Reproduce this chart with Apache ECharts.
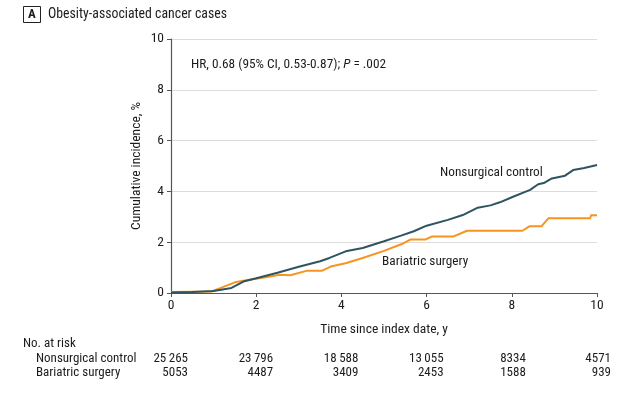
<!DOCTYPE html>
<html><head><meta charset="utf-8">
<script src="https://cdn.jsdelivr.net/npm/echarts@6/dist/echarts.min.js"></script>
<style>html,body{margin:0;padding:0;background:#fff}#c{width:634px;height:398px}</style>
</head><body><div id="c"></div>
<script>
const FONT = '"Roboto Condensed", "DejaVu Sans Condensed", sans-serif';
const xTicks = [0, 2, 4, 6, 8, 10];
const yTicks = [0, 2, 4, 6, 8, 10];
const controlCurve = [[0,0.02],[0.5,0.04],[1.0,0.08],[1.42,0.2],[1.7,0.45],[2.0,0.58],[2.5,0.8],[3.0,1.03],[3.5,1.25],[3.72,1.38],[4.1,1.64],[4.5,1.77],[5.0,2.04],[5.4,2.26],[5.7,2.43],[6.0,2.65],[6.5,2.88],[6.85,3.07],[7.2,3.36],[7.5,3.45],[7.72,3.57],[8.03,3.79],[8.43,4.06],[8.62,4.28],[8.75,4.33],[8.94,4.51],[9.25,4.62],[9.44,4.84],[9.7,4.92],[10,5.04]];
const surgeryCurve = [[0,0.04],[0.95,0.06],[1.2,0.22],[1.5,0.42],[1.7,0.48],[2.0,0.56],[2.3,0.64],[2.55,0.72],[2.8,0.7],[3.2,0.88],[3.55,0.88],[3.75,1.04],[4.1,1.17],[4.5,1.38],[5.0,1.66],[5.45,1.95],[5.63,2.11],[5.98,2.11],[6.12,2.22],[6.62,2.22],[6.95,2.45],[8.25,2.45],[8.42,2.63],[8.7,2.63],[8.86,2.94],[9.84,2.94],[9.86,3.06],[10,3.06]];
const riskTimes = [0, 2, 4, 6, 8, 10];
const riskControl = ['25\u2009265', '23\u2009796', '18\u2009588', '13\u2009055', '8334', '4571'];
const riskSurgery = ['5053', '4487', '3409', '2453', '1588', '939'];
const seriesNames = ['Nonsurgical control', 'Bariatric surgery'];

const chart = echarts.init(document.getElementById('c'), null, {renderer: 'canvas'});
const axisColor = '#555';
const TXT = '#1e1b1c';
chart.setOption({
  animation: false,
  textStyle: {fontFamily: FONT},
  grid: {left: 171, right: 37, top: 39, bottom: 105, containLabel: false},
  xAxis: {
    type: 'value', min: 0, max: 10, interval: 2,
    name: 'Time since index date, y', nameLocation: 'middle', nameGap: 30, nameMoveOverlap: false,
    nameTextStyle: {fontFamily: FONT, fontSize: 13.5, color: TXT},
    axisLine: {lineStyle: {color: axisColor, width: 1.2}},
    axisTick: {show: true, length: 4, lineStyle: {color: axisColor}},
    axisLabel: {fontFamily: FONT, fontSize: 13.5, color: TXT, margin: 6},
    splitLine: {show: false}
  },
  yAxis: {
    type: 'value', min: 0, max: 10, interval: 2,
    name: 'Cumulative incidence, %', nameLocation: 'middle', nameGap: 27, nameMoveOverlap: false,
    nameTextStyle: {fontFamily: FONT, fontSize: 13.5, color: TXT},
    axisLine: {show: true, lineStyle: {color: axisColor, width: 1.2}},
    axisTick: {show: true, length: 4, lineStyle: {color: axisColor}},
    axisLabel: {fontFamily: FONT, fontSize: 13.5, color: TXT, margin: 7},
    splitLine: {show: true, lineStyle: {color: '#dcdcdc', width: 1}}
  },
  series: [
    {name: seriesNames[0], type: 'line', data: controlCurve, showSymbol: false, lineStyle: {color: '#2e5461', width: 2}, z: 3},
    {name: seriesNames[1], type: 'line', data: surgeryCurve, showSymbol: false, lineStyle: {color: '#f7941e', width: 2}, z: 2}
  ]
});

const px = t => chart.convertToPixel({xAxisIndex: 0}, t);
const py = v => chart.convertToPixel({yAxisIndex: 0}, v);
const g = [];
// panel label
g.push({type: 'rect', shape: {x: 23.5, y: 6.5, width: 17, height: 16}, style: {fill: '#fff', stroke: '#222', lineWidth: 1}});
g.push({type: 'text', x: 32, y: 14.5, style: {text: 'A', fontFamily: FONT, fontSize: 13, fontWeight: 'bold', fill: TXT, align: 'center', verticalAlign: 'middle'}});
g.push({type: 'text', x: 48, y: 14.5, style: {text: 'Obesity-associated cancer cases', fontFamily: FONT, fontSize: 13.8, fill: TXT, align: 'left', verticalAlign: 'middle'}});
// HR annotation
g.push({type: 'text', x: 191, y: 65, style: {
  text: '{n|HR, 0.68 (95% CI, 0.53-0.87); }{i|P}{n| = .002}',
  rich: {n: {fontFamily: FONT, fontSize: 13.3, fill: TXT}, i: {fontFamily: FONT, fontSize: 13.3, fontStyle: 'italic', fill: TXT}},
  align: 'left', verticalAlign: 'middle'}});
// series labels
g.push({type: 'text', x: 440, y: py(4.75), style: {text: seriesNames[0], fontFamily: FONT, fontSize: 13.3, fill: TXT, align: 'left', verticalAlign: 'middle'}});
g.push({type: 'text', x: 382, y: py(1.23), style: {text: seriesNames[1], fontFamily: FONT, fontSize: 13.3, fill: TXT, align: 'left', verticalAlign: 'middle'}});
// risk table
g.push({type: 'text', x: 23, y: 344, style: {text: 'No. at risk', fontFamily: FONT, fontSize: 13, fill: TXT, align: 'left', verticalAlign: 'middle'}});
g.push({type: 'text', x: 36, y: 359, style: {text: seriesNames[0], fontFamily: FONT, fontSize: 13, fill: TXT, align: 'left', verticalAlign: 'middle'}});
g.push({type: 'text', x: 36, y: 373, style: {text: seriesNames[1], fontFamily: FONT, fontSize: 13, fill: TXT, align: 'left', verticalAlign: 'middle'}});
riskTimes.forEach((t, i) => {
  const x = px(t) + (i >= 4 ? 14 : 17);
  g.push({type: 'text', x: x, y: 359, style: {text: riskControl[i], fontFamily: FONT, fontSize: 13, fill: TXT, align: 'right', verticalAlign: 'middle'}});
  g.push({type: 'text', x: x, y: 373, style: {text: riskSurgery[i], fontFamily: FONT, fontSize: 13, fill: TXT, align: 'right', verticalAlign: 'middle'}});
});
chart.setOption({graphic: g});
</script></body></html>
